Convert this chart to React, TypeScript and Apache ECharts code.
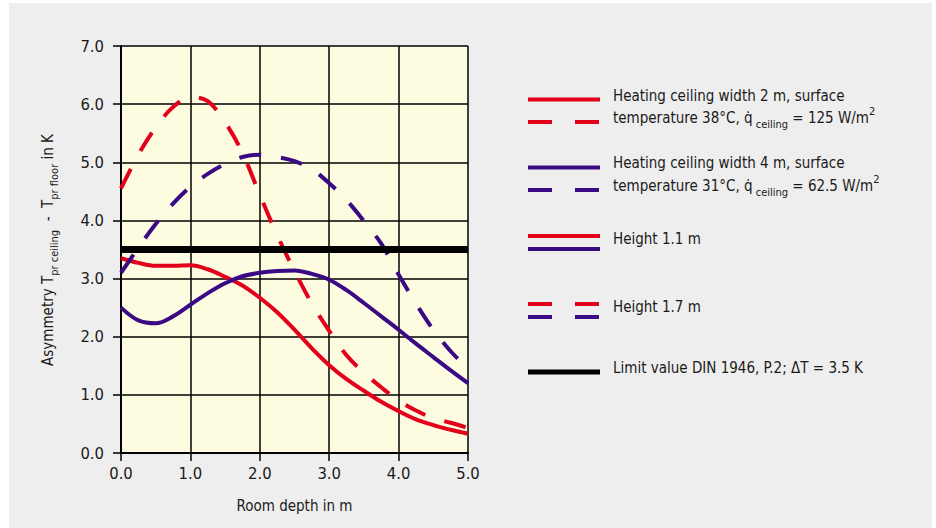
import React, { useEffect, useRef } from "react";
import * as echarts from "echarts";

const roomDepth = [0, 0.25, 0.5, 0.75, 1.0, 1.25, 1.5, 1.75, 2.0, 2.25, 2.5, 2.75, 3.0, 3.25, 3.5, 3.75, 4.0, 4.25, 4.5, 4.75, 5.0];
const red11 = [3.35, 3.27, 3.22, 3.22, 3.23, 3.16, 3.03, 2.88, 2.67, 2.42, 2.12, 1.8, 1.51, 1.27, 1.07, 0.88, 0.72, 0.58, 0.48, 0.4, 0.33];
const red17 = [4.55, 5.13, 5.6, 5.95, 6.12, 6.05, 5.69, 5.16, 4.44, 3.75, 3.13, 2.57, 2.1, 1.68, 1.38, 1.13, 0.9, 0.73, 0.6, 0.52, 0.43];
const blue11 = [2.5, 2.28, 2.23, 2.35, 2.55, 2.75, 2.92, 3.04, 3.1, 3.13, 3.14, 3.08, 2.98, 2.8, 2.58, 2.35, 2.12, 1.88, 1.65, 1.42, 1.2];
const blue17 = [3.1, 3.53, 3.94, 4.29, 4.58, 4.8, 4.97, 5.09, 5.13, 5.09, 5.02, 4.88, 4.64, 4.35, 3.99, 3.6, 3.07, 2.57, 2.12, 1.75, 1.45];
const limitX = [0, 5];
const limitValue = 3.5;

const RED = "#e2001a";
const BLUE = "#3a0a85";
const FONT = "'DejaVu Sans Condensed', 'Liberation Sans', sans-serif";
const TXT = "#1a1a1a";
const FS = 15;
const SUB = 11;

const pairs = (ys: number[]) => roomDepth.map((x, i) => [x, ys[i]]);

export default function App() {
  const ref = useRef<HTMLDivElement>(null);
  useEffect(() => {
    if (!ref.current) return;
    const chart = echarts.init(ref.current, null, { renderer: "svg" });
    const lineSeries = (name: string, ys: number[], color: string, dashed: boolean) => ({
      name,
      type: "line",
      data: pairs(ys),
      smooth: 0.35,
      showSymbol: false,
      symbol: "none",
      lineStyle: { color, width: 4, type: dashed ? [22, 20] : "solid", cap: "butt" },
      z: 3,
    });
    const legLine = (x1: number, x2: number, y: number, color: string, w = 4) => ({
      type: "line",
      shape: { x1, y1: y, x2, y2: y },
      style: { stroke: color, lineWidth: w },
    });
    const legText = (x: number, y: number, text: string) => ({
      type: "text",
      x,
      y,
      style: {
        text,
        font: `${FS}px ${FONT}`,
        fill: TXT,
        textAlign: "left",
        textVerticalAlign: "middle",
      },
    });
    const richLine = (x: number, y: number, text: string) => ({
      type: "text",
      x,
      y,
      style: {
        text,
        fill: TXT,
        textAlign: "left",
        textVerticalAlign: "middle",
        rich: {
          m: { fontSize: FS, fontFamily: FONT, color: TXT, lineHeight: 24 },
          s: { fontSize: SUB, fontFamily: FONT, color: TXT, lineHeight: 11, verticalAlign: "bottom" },
          p: { fontSize: SUB, fontFamily: FONT, color: TXT, lineHeight: 13, verticalAlign: "top" },
        },
      },
    });

    chart.setOption({
      animation: false,
      backgroundColor: "#ffffff",
      grid: {
        left: 121,
        right: 468,
        top: 46,
        bottom: 75,
        show: true,
        backgroundColor: "#fdfbe0",
        borderWidth: 0,
      },
      xAxis: {
        type: "value",
        min: 0,
        max: 5,
        interval: 1,
        axisLine: { show: true, onZero: false, lineStyle: { color: "#000", width: 2 } },
        axisTick: { show: true, length: 8, lineStyle: { color: "#000", width: 1.5 } },
        splitLine: { show: true, lineStyle: { color: "#000", width: 1.5 } },
        axisLabel: {
          formatter: (v: number) => v.toFixed(1),
          fontFamily: FONT,
          fontSize: 16.5,
          color: TXT,
          margin: 12,
        },
        name: "Room depth in m",
        nameLocation: "middle",
        nameGap: 45,
        nameTextStyle: { fontFamily: FONT, fontSize: FS, color: TXT },
      },
      yAxis: {
        type: "value",
        min: 0,
        max: 7,
        interval: 1,
        axisLine: { show: true, onZero: false, lineStyle: { color: "#000", width: 2 } },
        axisTick: { show: true, length: 8, lineStyle: { color: "#000", width: 1.5 } },
        splitLine: { show: true, lineStyle: { color: "#000", width: 1.5 } },
        axisLabel: {
          formatter: (v: number) => v.toFixed(1),
          fontFamily: FONT,
          fontSize: 16.5,
          color: TXT,
          margin: 17,
        },
      },
      series: [
        lineSeries("Width 2 m, height 1.1 m", red11, RED, false),
        lineSeries("Width 2 m, height 1.7 m", red17, RED, true),
        lineSeries("Width 4 m, height 1.1 m", blue11, BLUE, false),
        lineSeries("Width 4 m, height 1.7 m", blue17, BLUE, true),
        {
          name: "Limit value",
          type: "line",
          data: limitX.map((x) => [x, limitValue]),
          showSymbol: false,
          symbol: "none",
          lineStyle: { color: "#000", width: 7 },
          z: 4,
        },
      ],
      graphic: [
        {
          type: "rect",
          shape: { x: 9, y: 3, width: 923, height: 525 },
          style: { fill: "#eeeeee" },
          z: -100,
          silent: true,
        },
        {
          type: "text",
          x: 47.5,
          y: 250,
          rotation: Math.PI / 2,
          style: {
            text: "{m|Asymmetry T}{s|pr ceiling}{m|  -  T}{s|pr floor}{m| in K}",
            textAlign: "center",
            textVerticalAlign: "middle",
            fill: TXT,
            rich: {
              m: { fontSize: FS, fontFamily: FONT, color: TXT, lineHeight: 24 },
              s: { fontSize: SUB, fontFamily: FONT, color: TXT, lineHeight: 11, verticalAlign: "bottom" },
            },
          },
        },
        legLine(528, 600, 99.5, RED),
        legLine(528, 552, 122, RED),
        legLine(575, 599, 122, RED),
        legText(613, 96, "Heating ceiling width 2 m, surface"),
        richLine(613, 118, "{m|temperature 38°C, q̇}{s| ceiling}{m| = 125 W/m}{p|2}"),
        legLine(528, 600, 167.5, BLUE),
        legLine(528, 552, 190, BLUE),
        legLine(575, 599, 190, BLUE),
        legText(613, 163, "Heating ceiling width 4 m, surface"),
        richLine(613, 186, "{m|temperature 31°C, q̇}{s| ceiling}{m| = 62.5 W/m}{p|2}"),
        legLine(528, 600, 236, RED),
        legLine(528, 600, 249, BLUE),
        legText(613, 239, "Height 1.1 m"),
        legLine(528, 552, 304, RED),
        legLine(575, 599, 304, RED),
        legLine(528, 552, 317, BLUE),
        legLine(575, 599, 317, BLUE),
        legText(613, 307, "Height 1.7 m"),
        legLine(528, 600, 372, "#000", 5),
        legText(613, 368, "Limit value DIN 1946, P.2; ΔT = 3.5 K"),
      ],
    });
    return () => chart.dispose();
  }, []);
  return (
    <div
      ref={ref}
      style={{ position: "fixed", left: 0, top: 0, width: 936, height: 528 }}
    />
  );
}
